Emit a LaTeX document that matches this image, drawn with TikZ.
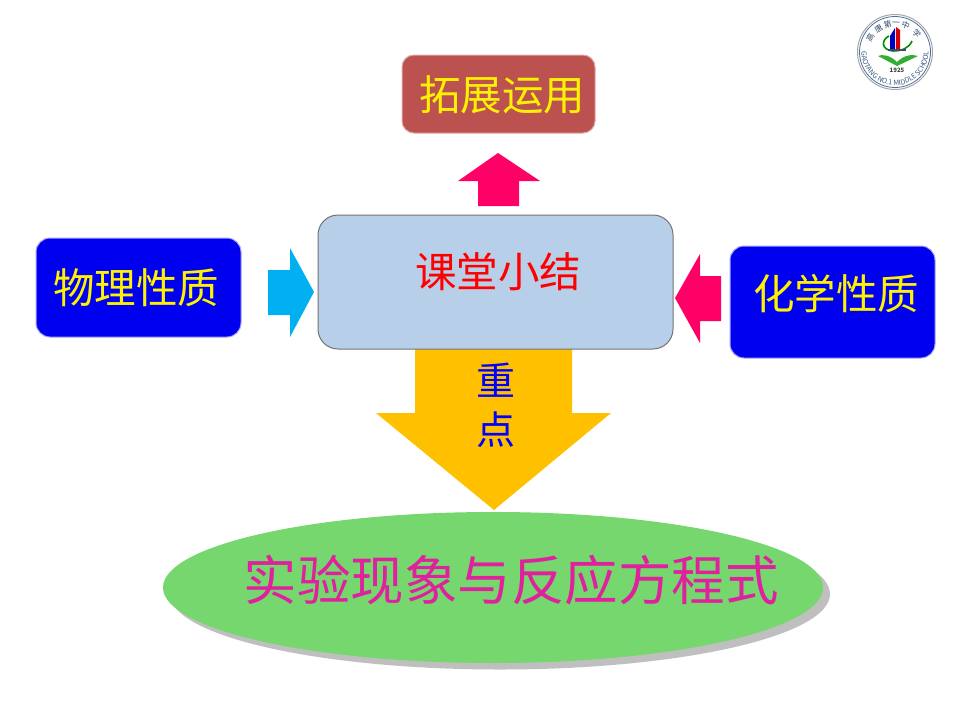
\documentclass[tikz,border=0pt]{standalone}
\usepackage{fontspec}
\setmainfont{Noto Sans CJK SC}
\usepackage{tikz}
\usetikzlibrary{shapes.geometric, decorations.text}
\definecolor{brickred}{HTML}{BC5250}
\definecolor{paleblue}{HTML}{B8CFEA}
\definecolor{hotpink}{HTML}{FF0066}
\definecolor{skyarrow}{HTML}{00B0F0}
\definecolor{amber}{HTML}{FFC000}
\definecolor{leaf}{HTML}{76D76E}
\definecolor{magentatext}{HTML}{E0209F}
\definecolor{seal}{HTML}{4A6F9C}
\tikzset{
  box/.style={rounded corners=#1, draw, line width=1pt, inner sep=0},
  box/.default=14,
  label/.style={font=\fontsize{41.5}{42}\selectfont, text=yellow, inner sep=0},
}
\newcommand{\boxnode}[6]{
\node[box=#6, draw=#5, fill=#4, minimum width=#2, minimum height=#3] (#1)
}

\begin{document}
\begin{tikzpicture}[x=1pt, y=-1pt]
\useasboundingbox (0,0) rectangle (960,720);
\fill[white] (0,0) rectangle (960,720);
% arrows
\fill[amber] (415,345) -- (572,345) -- (572,413) -- (611,413) -- (494,510) -- (376,413) -- (415,413) -- cycle;
\fill[hotpink] (498,153) -- (540,181) -- (519,181) -- (519,206) -- (478,206) -- (478,181) -- (458,181) -- cycle;
\fill[skyarrow] (314,292) -- (290,337) -- (290,315) -- (268,315) -- (268,270) -- (290,270) -- (290,248) -- cycle;
\fill[hotpink] (675,298) -- (700,254) -- (700,276) -- (721,276) -- (721,321) -- (700,321) -- (700,343) -- cycle;
% boxes
\boxnode{top}{193pt}{78pt}{brickred}{brickred!50!white}{12pt} at (498.5,94) {};
\boxnode{mid}{355pt}{134pt}{paleblue}{black!55}{20pt} at (495.5,282) {};
\boxnode{lft}{205pt}{99pt}{blue!94!black}{blue!35!white}{14pt} at (138.5,287.5) {};
\boxnode{rgt}{205pt}{112pt}{blue!94!black}{blue!35!white}{14pt} at (832.5,302) {};
\path (502,95) node[label] (toptext) {拓展运用};
\path (498,272) node[label, text=red] (midtext) {课堂小结};
\path (136,288) node[label] (lfttext) {物理性质};
\path (836,294) node[label] (rgttext) {化学性质};
\path (496,380) node[label, text=blue, font=\fontsize{39}{39}\selectfont] (zhong) {重};
\path (496,430) node[label, text=blue, font=\fontsize{39}{39}\selectfont] (dian) {点};
% ellipse
\fill[black!25] (500,594) ellipse [x radius=330, y radius=75.5];
\node[ellipse, fill=leaf, minimum width=660pt, minimum height=151pt, inner sep=0] (oval) at (493,587.5) {};
\path (511,580) node[label, text=magentatext, font=\fontsize{53.5}{54}\selectfont] (ovaltext) {实验现象与反应方程式};
% school seal
\draw[black!35, line width=1pt] (895,52) circle [radius=37.5];
\draw[seal, line width=0.8pt] (895,52) circle [radius=35.5];
\foreach \ch/\ang in {高/150, 唐/125, 第/105, 一/88, 中/68, 学/40}
  \path (895,52) ++(\ang:28.5 and -28.5) node[text=seal!70!black, rotate=\ang-90, font=\fontsize{8}{8}\selectfont, inner sep=0] (seal \ang) {\ch};
\path[decorate, decoration={text along path, text align=center, text color=seal!80!black,
    text={|\fontsize{7}{7}\selectfont|GAOTANG NO.1 MIDDLE SCHOOL}}]
  (895,52) ++(182:33.5) arc [start angle=182, end angle=-2, radius=33.5];
\fill[red!85!black] (896,27) -- (900,30) -- (900,49) -- (896,49) -- cycle;
\fill[blue!75!black] (890,36) -- (895,28) -- (895,49) -- (890,49) -- cycle;
\draw[green!55!black, line width=1.6pt] (889,36) .. controls (881,40) and (881,50) .. (893,51) .. controls (902,51) and (909,48) .. (912,41);
\draw[seal!70!black, line width=1.2pt] (888,50) -- (906,50);
\fill[green!60!black!80] (897,62) .. controls (890,55) and (882,54) .. (878,56) -- (897,66) -- (918,56) .. controls (912,54) and (904,55) .. (897,62) -- cycle;
\path (897,70) node[text=black!75, font=\bfseries\fontsize{6}{6}\selectfont, inner sep=0] (year) {1925};
\end{tikzpicture}
\end{document}
